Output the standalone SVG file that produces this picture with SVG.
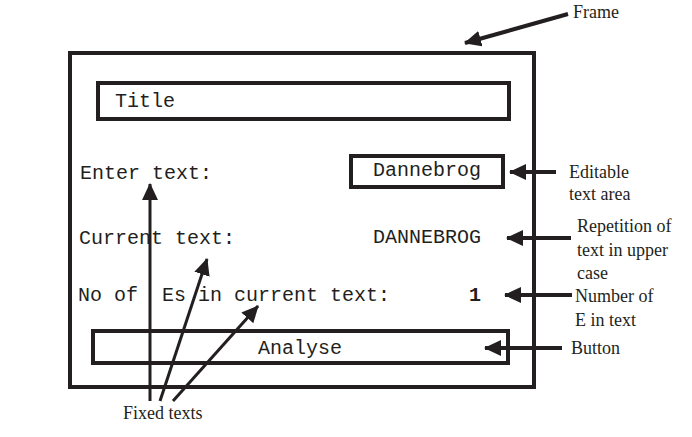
<svg xmlns="http://www.w3.org/2000/svg" width="692" height="437" viewBox="0 0 692 437">
<defs>
<marker id="ah" markerUnits="userSpaceOnUse" markerWidth="20" markerHeight="18" refX="16" refY="8" orient="auto">
<path d="M0,0 L17,8 L0,16 Z" fill="#231f20"/>
</marker>
<style>
.box{fill:none;stroke:#231f20;stroke-width:4}
.mono{font-family:"Liberation Mono","Courier New",monospace;font-size:20px;fill:#231f20;white-space:pre}
.serif{font-family:"Liberation Serif","Times New Roman",serif;font-size:18px;fill:#231f20}
.arr{stroke:#231f20;stroke-width:4;fill:none;marker-end:url(#ah)}
.arrt{stroke:#231f20;stroke-width:3;fill:none;marker-end:url(#ah)}
</style>
</defs>
<rect width="692" height="437" fill="#ffffff"/>
<g id="frame"><rect class="box" x="70" y="53" width="464" height="334" stroke-width="3.5"/></g>
<g id="title"><rect class="box" x="98" y="83" width="411" height="36"/><text class="mono" x="115" y="107">Title</text></g>
<g id="enter-label"><text class="mono" x="80" y="179">Enter text:</text></g>
<g id="entry"><rect class="box" x="351" y="156" width="152" height="31"/><text class="mono" x="373" y="176">Dannebrog</text></g>
<g id="current-label"><text class="mono" x="79" y="244">Current text:</text></g>
<g id="current-value"><text class="mono" x="373" y="243">DANNEBROG</text></g>
<g id="count-label"><text class="mono" x="78" y="301" xml:space="preserve">No of  Es in current text:</text></g>
<g id="count-value"><text class="mono" x="469" y="301" font-weight="bold">1</text></g>
<g id="button"><rect class="box" x="93" y="331" width="415" height="32"/><text class="mono" x="258" y="354">Analyse</text></g>
<g id="lbl-frame"><text class="serif" x="573" y="18">Frame</text></g>
<g id="lbl-editable"><text class="serif" x="569" y="178">Editable</text><text class="serif" x="569" y="200">text area</text></g>
<g id="lbl-repetition"><text class="serif" x="577" y="232">Repetition of</text><text class="serif" x="577" y="256">text in upper</text><text class="serif" x="577" y="279">case</text></g>
<g id="lbl-number"><text class="serif" x="575" y="302">Number of</text><text class="serif" x="575" y="326">E in text</text></g>
<g id="lbl-button"><text class="serif" x="571" y="354">Button</text></g>
<g id="lbl-fixed"><text class="serif" x="123" y="419">Fixed texts</text></g>
<g id="connectors">
<line class="arr" x1="568" y1="14" x2="465" y2="43"/>
<line class="arr" x1="556" y1="172" x2="510" y2="172"/>
<line class="arr" x1="571" y1="238" x2="507" y2="238"/>
<line class="arr" x1="572" y1="295" x2="505" y2="295"/>
<line class="arr" x1="562" y1="348" x2="485" y2="348"/>
<line class="arrt" x1="150" y1="401" x2="150" y2="184"/>
<line class="arrt" x1="160" y1="401" x2="207" y2="259"/>
<line class="arrt" x1="173" y1="401" x2="258" y2="306"/>
</g>
</svg>
